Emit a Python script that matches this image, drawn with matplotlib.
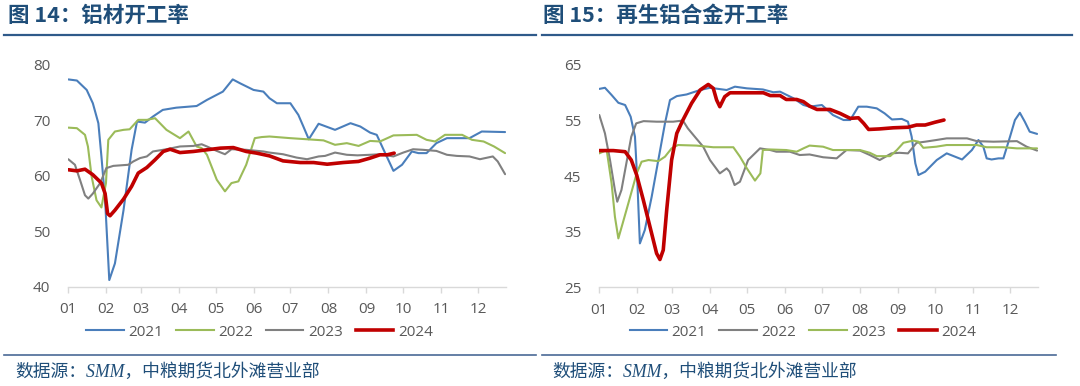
import matplotlib
matplotlib.use("Agg")
import matplotlib.pyplot as plt
from matplotlib.lines import Line2D

# ---------------- data ----------------
month_ticks = [0, 31, 59, 90, 120, 151, 181, 212, 243, 273, 304, 334]
month_labels = ["01", "02", "03", "04", "05", "06", "07", "08", "09", "10", "11", "12"]

# Figure 14: aluminium profiles operating rate (day of year, %)
a21_d = [0, 7, 15, 20, 24.5, 27, 30, 33.4, 38, 45, 51.6, 56, 62.5, 69, 77, 88, 104.6, 113, 126, 134,
         140, 151, 159, 164, 170, 181, 187.5, 191.6, 196, 204, 217.4, 230, 238, 246, 251.4, 257, 265,
         272, 280, 285.4, 292, 300, 308.6, 327, 337, 356]
a21_v = [77.4, 77.2, 75.5, 73.1, 69.5, 63.5, 55.6, 41.2, 44.2, 53.8, 64.7, 69.8, 69.6, 70.7, 71.9, 72.3,
         72.6, 73.7, 75.2, 77.4, 76.7, 75.5, 75.2, 74.0, 73.1, 73.1, 71.0, 68.9, 66.6, 69.4, 68.3, 69.5,
         68.9, 67.8, 67.4, 64.7, 60.9, 62.0, 64.4, 64.1, 64.1, 65.9, 66.8, 66.8, 68.0, 67.9]

a22_d = [0, 7, 13.6, 16, 19, 23, 27, 30.7, 32.6, 38, 45, 50, 57, 64, 70.7, 80, 91, 98, 104.6, 108.7,
         113, 121, 127.7, 133, 138.6, 145, 152, 157.6, 164, 181, 194.6, 208, 217.4, 227, 236.6, 246,
         254, 265, 284, 292, 299, 307, 321, 329, 338.5, 347, 356]
a22_v = [68.7, 68.6, 67.4, 65.3, 59.9, 55.6, 54.3, 58.7, 66.5, 68.0, 68.3, 68.4, 70.1, 70.1, 70.4, 68.3,
         66.8, 68.0, 65.3, 65.0, 63.8, 59.3, 57.2, 58.7, 59.0, 62.0, 66.8, 67.0, 67.1, 66.8, 66.6, 66.4,
         65.6, 65.9, 65.4, 66.3, 66.2, 67.3, 67.4, 66.5, 66.2, 67.4, 67.4, 66.5, 66.2, 65.3, 64.1]

a23_d = [0, 5.4, 9.5, 13.6, 16.3, 20, 26, 31, 36.7, 49, 53, 58.4, 64, 69, 80, 91, 102, 108.7, 113, 121,
         127.7, 133, 145, 159, 164, 175, 186, 194.6, 204, 209.3, 217.4, 227, 235.7, 246, 254, 265, 273,
         281, 289, 300, 308.6, 316.6, 327, 335.5, 346, 350, 356]
a23_v = [63.0, 62.0, 59.3, 56.5, 55.9, 56.8, 58.7, 61.4, 61.8, 62.0, 62.6, 63.2, 63.5, 64.4, 64.8, 65.3,
         65.4, 65.7, 65.3, 64.5, 63.9, 64.8, 64.7, 64.4, 64.2, 63.9, 63.3, 63.0, 63.5, 63.6, 64.2, 63.8,
         63.7, 63.8, 63.9, 63.5, 64.2, 64.8, 64.7, 64.5, 63.8, 63.6, 63.5, 63.0, 63.5, 62.6, 60.3]

a24_d = [0, 7, 13.6, 20, 27, 30, 32, 34, 38, 45, 51.6, 57, 64, 70.7, 77.4, 83, 91, 102, 113, 124,
         134.5, 145, 153.5, 164, 175, 189, 200, 211, 224, 236.5, 246, 254, 260, 265.6]
a24_v = [61.1, 60.9, 61.2, 60.2, 58.7, 56.8, 53.2, 52.8, 53.8, 55.8, 58.1, 60.5, 61.5, 62.9, 64.4, 64.8,
         64.2, 64.4, 64.7, 65.0, 65.1, 64.4, 64.1, 63.6, 62.7, 62.4, 62.4, 62.1, 62.4, 62.6, 63.2, 63.8,
         63.8, 64.1]

# Figure 15: secondary aluminium alloy operating rate (day of year, %)
r21_d = [0, 4.6, 10, 15.5, 21, 25.5, 29, 31, 33, 37, 42.6, 48, 53.4, 57.5, 63, 71, 82, 90, 103.6, 110.3,
         120, 133, 141.5, 147, 158, 166, 171, 181, 190, 198.6, 204, 210.6, 217.5, 225.6, 232, 238, 246,
         251, 254, 257, 259.5, 265, 274.4, 282.5, 295, 303, 308.3, 312.3, 315, 319, 324.6, 328.6, 334,
         338, 342, 346, 350, 356]
r21_v = [60.7, 60.9, 59.6, 58.2, 57.8, 55.7, 52.1, 43.7, 32.9, 35.3, 41.3, 47.9, 54.5, 58.7, 59.4, 59.7,
         60.5, 60.9, 60.5, 61.1, 60.8, 60.6, 60.1, 60.2, 59.0, 57.8, 57.5, 57.8, 56.0, 55.1, 55.1, 57.5,
         57.5, 57.2, 56.3, 55.2, 55.3, 54.8, 52.1, 47.3, 45.2, 45.8, 47.9, 49.1, 48.0, 49.7, 51.5, 50.3,
         48.2, 48.0, 48.2, 48.2, 52.1, 55.1, 56.4, 54.8, 53.0, 52.6]

r22_d = [0, 4.6, 8.7, 12.7, 14.6, 18, 22, 26, 30, 36, 46.6, 60, 68, 72, 78, 84.5, 90, 98, 103.6, 106,
         110, 114.4, 121, 130.7, 139, 144, 155, 163, 171, 182, 193, 201, 212, 220, 228, 237.6, 244, 251,
         258, 265, 274, 282.5, 299, 307, 320.5, 339.6, 347.5, 356]
r22_v = [56.0, 52.7, 47.9, 42.5, 40.4, 42.5, 47.3, 52.1, 54.5, 54.9, 54.8, 54.8, 55.0, 53.6, 52.0, 50.3,
         47.9, 45.5, 46.4, 45.8, 43.4, 44.0, 47.9, 50.0, 49.7, 49.4, 49.4, 48.8, 48.9, 48.4, 48.2, 49.7,
         49.6, 48.8, 47.9, 49.1, 49.2, 49.1, 51.0, 51.2, 51.5, 51.8, 51.8, 51.3, 51.2, 51.3, 50.3, 49.6]

r23_d = [0, 6, 10, 12.7, 15.5, 19, 23.6, 30.4, 34.4, 40, 48, 53.4, 58.8, 64, 79, 92.7, 109, 114.4, 120,
         126.6, 131, 133, 139, 152, 160.5, 166, 171, 182, 190, 212, 220, 225.6, 236.5, 242, 247.3, 255.4,
         259.5, 263.5, 274, 282.5, 307, 315, 328.6, 339.6, 356]
r23_v = [49.1, 49.7, 43.7, 37.7, 33.8, 36.5, 40.1, 45.5, 47.6, 47.9, 47.7, 48.5, 50.0, 50.6, 50.5, 50.2,
         50.2, 48.5, 46.4, 44.2, 45.5, 49.7, 49.8, 49.7, 49.4, 50.0, 50.5, 50.3, 49.7, 49.7, 49.2, 48.6,
         48.6, 49.7, 51.0, 51.4, 51.2, 50.1, 50.3, 50.6, 50.6, 50.2, 50.2, 50.0, 50.0]

r24_d = [0, 11.4, 21, 26, 30.4, 35.8, 41.2, 46.6, 49.3, 52, 54.8, 58.8, 63, 68, 75, 82, 88.6, 92.7,
         95.4, 98, 102, 106.3, 120, 133.4, 139, 147, 152, 160.5, 166, 171, 177, 187.6, 195.7, 204,
         210.7, 215, 219, 228, 239, 251, 258, 265, 273, 280.3]
r24_v = [49.6, 49.6, 49.4, 47.9, 45.2, 40.7, 35.9, 31.1, 30.0, 31.7, 38.9, 47.9, 52.7, 55.1, 58.1, 60.5,
         61.5, 60.8, 58.7, 57.5, 59.3, 60.0, 60.0, 60.0, 59.5, 59.5, 58.8, 58.8, 58.4, 57.6, 57.0, 57.0,
         56.3, 55.4, 55.5, 54.5, 53.4, 53.5, 53.7, 53.8, 54.2, 54.2, 54.7, 55.1]

years = ["2021", "2022", "2023", "2024"]
left_ticks = [40, 50, 60, 70, 80]
right_ticks = [25, 35, 45, 55, 65]

titles = ["图 14：铝材开工率", "图 15：再生铝合金开工率"]
source = "数据源：SMM，中粮期货北外滩营业部"

# ---------------- style ----------------
BLUE = "#4A7EBB"
GREEN = "#9BBB59"
GRAY = "#808080"
RED = "#C00000"
NAVY = "#1F4E79"
TXT = "#595959"
AXC = "#D9D9D9"

plt.rcParams["font.family"] = ["Open Sans", "Noto Sans CJK SC", "DejaVu Sans"]

W, H = 1080, 386
fig = plt.figure(figsize=(W / 100, H / 100), dpi=100)


def fx(px):
    return px / W


def fy(py):
    return 1 - py / H


def make_axes(x0, x1, ytop, ybot):
    return fig.add_axes([fx(x0), fy(ybot), fx(x1) - fx(x0), fy(ytop) - fy(ybot)])


axL = make_axes(68.3, 505.7, 65, 286.7)
axR = make_axes(599.3, 1037.7, 65, 287.3)

panels = [
    (axL, [(a21_d, a21_v, BLUE, 1.5), (a22_d, a22_v, GREEN, 1.5), (a23_d, a23_v, GRAY, 1.5),
           (a24_d, a24_v, RED, 2.6)], left_ticks),
    (axR, [(r21_d, r21_v, BLUE, 1.5), (r22_d, r22_v, GRAY, 1.5), (r23_d, r23_v, GREEN, 1.5),
           (r24_d, r24_v, RED, 2.6)], right_ticks),
]

for ax, series, yt in panels:
    for d, v, c, lw in series:
        ax.plot(d, v, color=c, lw=lw, solid_joinstyle="round", solid_capstyle="round")
    ax.set_xlim(0, 356.5)
    ax.set_ylim(yt[0], yt[-1])
    ax.set_yticks(yt)
    ax.set_xticks(month_ticks)
    ax.set_xticklabels(month_labels)
    for s in ["top", "right", "left"]:
        ax.spines[s].set_visible(False)
    ax.spines["bottom"].set_color(AXC)
    ax.spines["bottom"].set_linewidth(1.0)
    ax.tick_params(axis="x", direction="out", length=4.3, width=1.0, color=AXC,
                   labelsize=11, labelcolor=TXT, pad=7)
    ax.tick_params(axis="y", length=0, labelsize=11, labelcolor=TXT, pad=13)
    ax.patch.set_visible(False)


def add_legend(colors, cx):
    handles = [Line2D([0], [0], color=c, lw=(2.6 if c == RED else 1.5)) for c in colors]
    fig.legend(handles, years, loc="center", bbox_to_anchor=(fx(cx), fy(332)), ncol=4,
               frameon=False, fontsize=11, labelcolor=TXT, handlelength=2.45,
               handletextpad=0.3, columnspacing=0.85, borderaxespad=0, borderpad=0)


add_legend([BLUE, GREEN, GRAY, RED], 259.5)
add_legend([BLUE, GRAY, GREEN, RED], 802.8)

# titles and rules
cjk = ["Noto Sans CJK SC", "DejaVu Sans"]
fig.text(fx(8), fy(15), titles[0], fontsize=15.5, fontweight="bold", color=NAVY,
         va="center", ha="left", family=cjk)
fig.text(fx(543), fy(15), titles[1], fontsize=15.5, fontweight="bold", color=NAVY,
         va="center", ha="left", family=cjk)

for (x0, x1) in [(4, 536), (542, 1072)]:
    fig.add_artist(Line2D([fx(x0), fx(x1)], [fy(34.5), fy(34.5)], color="#2F5A8A", lw=1.6))
for (x0, x1) in [(4, 536), (542, 1056)]:
    fig.add_artist(Line2D([fx(x0), fx(x1)], [fy(354.5), fy(354.5)], color="#4A6A96", lw=1.2))

src_fam = ["Liberation Serif", "Noto Sans CJK SC", "DejaVu Sans"]
fig.text(fx(15), fy(372), source, fontsize=12.8, style="italic", color=NAVY,
         va="center", ha="left", family=src_fam)
fig.text(fx(552), fy(372), source, fontsize=12.8, style="italic", color=NAVY,
         va="center", ha="left", family=src_fam)

fig.savefig("out.png", dpi=100, facecolor="white")
